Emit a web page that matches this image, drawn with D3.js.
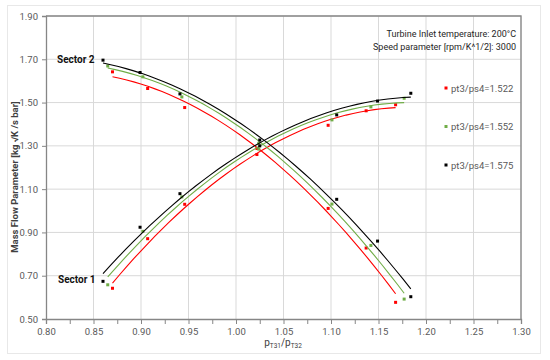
<!DOCTYPE html>
<html>
<head>
<meta charset="utf-8">
<script src="https://cdn.jsdelivr.net/npm/d3@7"></script>
<style>
  body { margin: 0; background: #fff; }
  text { font-family: Roboto, "Noto Sans", sans-serif; }
</style>
</head>
<body>
<div id="chart-area"></div>
<script>
// values
var seriesLabels = ["pt3/ps4=1.522", "pt3/ps4=1.552", "pt3/ps4=1.575"];
var seriesColors = ["#ff0000", "#70ad47", "#000000"];

var xRed   = [0.870, 0.907, 0.946, 1.022, 1.097, 1.137, 1.168];
var xGreen = [0.865, 0.902, 0.943, 1.024, 1.101, 1.142, 1.177];
var xBlack = [0.860, 0.899, 0.941, 1.025, 1.106, 1.149, 1.184];

// Sector 1 (rising)
var s1Red   = [0.642, 0.871, 1.030, 1.260, 1.395, 1.462, 1.490];
var s1Green = [0.658, 0.905, 1.064, 1.285, 1.420, 1.480, 1.520];
var s1Black = [0.674, 0.924, 1.079, 1.300, 1.443, 1.507, 1.543];

// Sector 2 (falling)
var s2Red   = [1.642, 1.565, 1.477, 1.288, 1.011, 0.828, 0.577];
var s2Green = [1.669, 1.619, 1.526, 1.312, 1.031, 0.840, 0.592];
var s2Black = [1.696, 1.639, 1.540, 1.327, 1.053, 0.860, 0.603];

var xTicks = [0.80, 0.85, 0.90, 0.95, 1.00, 1.05, 1.10, 1.15, 1.20, 1.25, 1.30];
var yTicks = [0.50, 0.70, 0.90, 1.10, 1.30, 1.50, 1.70, 1.90];

var margin = { left: 46, right: 29, top: 16, bottom: 41 };
var W = 550, H = 360;
var width = W - margin.left - margin.right;
var height = H - margin.top - margin.bottom;

var svg = d3.select("#chart-area").append("svg")
  .attr("width", W)
  .attr("height", H);

// outer chart frame
svg.append("rect")
  .attr("x", 7.5).attr("y", 5.5)
  .attr("width", 533).attr("height", 348)
  .attr("fill", "none")
  .attr("stroke", "#e8e8e8");

var g = svg.append("g")
  .attr("transform", "translate(" + margin.left + "," + margin.top + ")");

var x = d3.scaleLinear().domain([0.80, 1.30]).range([0, width]);
var y = d3.scaleLinear().domain([0.50, 1.90]).range([height, 0]);

// gridlines
g.append("g").selectAll("line").data(xTicks.slice(1)).enter().append("line")
  .attr("x1", function(d) { return x(d); })
  .attr("x2", function(d) { return x(d); })
  .attr("y1", 0).attr("y2", height)
  .attr("stroke", "#d9d9d9");
g.append("g").selectAll("line").data(yTicks.slice(1)).enter().append("line")
  .attr("x1", 0).attr("x2", width)
  .attr("y1", function(d) { return y(d); })
  .attr("y2", function(d) { return y(d); })
  .attr("stroke", "#d9d9d9");

// X axis
var minorX = d3.range(0.80, 1.3001, 0.025);
var xAxisGroup = g.append("g")
  .attr("transform", "translate(0," + height + ")")
  .call(d3.axisBottom(x).tickValues(minorX).tickSize(5).tickFormat(""));
var xLab = g.append("g")
  .attr("transform", "translate(0," + height + ")")
  .call(d3.axisBottom(x).tickValues(xTicks).tickSize(5).tickPadding(4)
    .tickFormat(d3.format(".2f")));
xLab.select(".domain").remove();
xLab.selectAll("line").remove();

// Y axis
var yAxisGroup = g.append("g")
  .call(d3.axisLeft(y).tickValues(yTicks).tickSize(4).tickPadding(4)
    .tickFormat(d3.format(".2f")));

[xAxisGroup, xLab, yAxisGroup].forEach(function(a) {
  a.selectAll(".domain").attr("stroke", "#868686").attr("stroke-width", 1.3);
  a.selectAll(".tick line").attr("stroke", "#868686");
  a.selectAll(".tick text").attr("fill", "#595959")
    .attr("font-size", "9.5px");
});

// top & right border of the plot box
g.append("path")
  .attr("d", "M0,0H" + width + "V" + height)
  .attr("fill", "none")
  .attr("stroke", "#868686")
  .attr("stroke-width", 1.3);

// quadratic least-squares trend line
function quadFit(xs, ys) {
  var s = [0, 0, 0, 0, 0], t = [0, 0, 0];
  xs.forEach(function(xv, i) {
    for (var k = 0; k < 5; k++) s[k] += Math.pow(xv, k);
    for (var k2 = 0; k2 < 3; k2++) t[k2] += ys[i] * Math.pow(xv, k2);
  });
  var A = [[s[0], s[1], s[2], t[0]], [s[1], s[2], s[3], t[1]], [s[2], s[3], s[4], t[2]]];
  for (var i = 0; i < 3; i++) {
    for (var j = i + 1; j < 3; j++) {
      var f = A[j][i] / A[i][i];
      for (var k3 = i; k3 < 4; k3++) A[j][k3] -= f * A[i][k3];
    }
  }
  var c = [0, 0, 0];
  for (var i2 = 2; i2 >= 0; i2--) {
    var v = A[i2][3];
    for (var j2 = i2 + 1; j2 < 3; j2++) v -= A[i2][j2] * c[j2];
    c[i2] = v / A[i2][i2];
  }
  return function(xv) { return c[0] + c[1] * xv + c[2] * xv * xv; };
}

var series = [
  { xs: xRed,   s1: s1Red,   s2: s2Red,   color: seriesColors[0] },
  { xs: xGreen, s1: s1Green, s2: s2Green, color: seriesColors[1] },
  { xs: xBlack, s1: s1Black, s2: s2Black, color: seriesColors[2] }
];

var line = d3.line()
  .x(function(d) { return x(d[0]); })
  .y(function(d) { return y(d[1]); });

series.forEach(function(s) {
  [s.s1, s.s2].forEach(function(ys) {
    var fit = quadFit(s.xs, ys);
    var x0 = d3.min(s.xs), x1 = d3.max(s.xs);
    var pts = d3.range(0, 41).map(function(i) {
      var xv = x0 + (x1 - x0) * i / 40;
      return [xv, fit(xv)];
    });
    g.append("path")
      .attr("d", line(pts))
      .attr("fill", "none")
      .attr("stroke", s.color)
      .attr("stroke-width", 1.1);

    g.append("g").selectAll("rect").data(ys).enter().append("rect")
      .attr("x", function(d, i) { return x(s.xs[i]) - 1.5; })
      .attr("y", function(d) { return y(d) - 1.5; })
      .attr("width", 3).attr("height", 3)
      .attr("fill", s.color);
  });
});

// sector labels
g.append("text")
  .attr("x", 11).attr("y", 47)
  .attr("font-size", "10px").attr("font-weight", "bold")
  .attr("fill", "#111")
  .text("Sector 2");
g.append("text")
  .attr("x", 12).attr("y", 267)
  .attr("font-size", "10px").attr("font-weight", "bold")
  .attr("fill", "#111")
  .text("Sector 1");

// annotation
var note = g.append("text")
  .attr("text-anchor", "end")
  .attr("font-size", "9px")
  .attr("fill", "#262626");
note.append("tspan").attr("x", width - 5).attr("y", 21)
  .text("Turbine Inlet temperature: 200°C");
note.append("tspan").attr("x", width - 5).attr("y", 33.5)
  .text("Speed parameter [rpm/K^1/2]: 3000");

// legend
var legend = g.selectAll(".legend").data(seriesLabels).enter().append("g")
  .attr("transform", function(d, i) { return "translate(400," + (72 + i * 38.5) + ")"; });
legend.append("rect")
  .attr("x", -1.5).attr("y", -1.5).attr("width", 3).attr("height", 3)
  .attr("fill", function(d, i) { return seriesColors[i]; });
legend.append("text")
  .attr("x", 5).attr("y", 3.5)
  .attr("font-size", "9.5px")
  .attr("fill", "#595959")
  .text(function(d) { return d; });

// axis titles
var xTitle = svg.append("text")
  .attr("x", 283).attr("y", 346)
  .attr("text-anchor", "middle")
  .attr("font-size", "10px")
  .attr("fill", "#404040");
xTitle.append("tspan").text("p");
xTitle.append("tspan").attr("font-size", "6.5px").attr("dy", 2).text("T31");
xTitle.append("tspan").attr("dy", -2).text("/p");
xTitle.append("tspan").attr("font-size", "6.5px").attr("dy", 2).text("T32");

svg.append("text")
  .attr("transform", "translate(18,177) rotate(-90)")
  .attr("text-anchor", "middle")
  .attr("font-size", "9.5px")
  .attr("font-weight", "bold")
  .attr("fill", "#404040")
  .text("Mass Flow Parameter [kg √K /s bar]");
</script>
</body>
</html>
